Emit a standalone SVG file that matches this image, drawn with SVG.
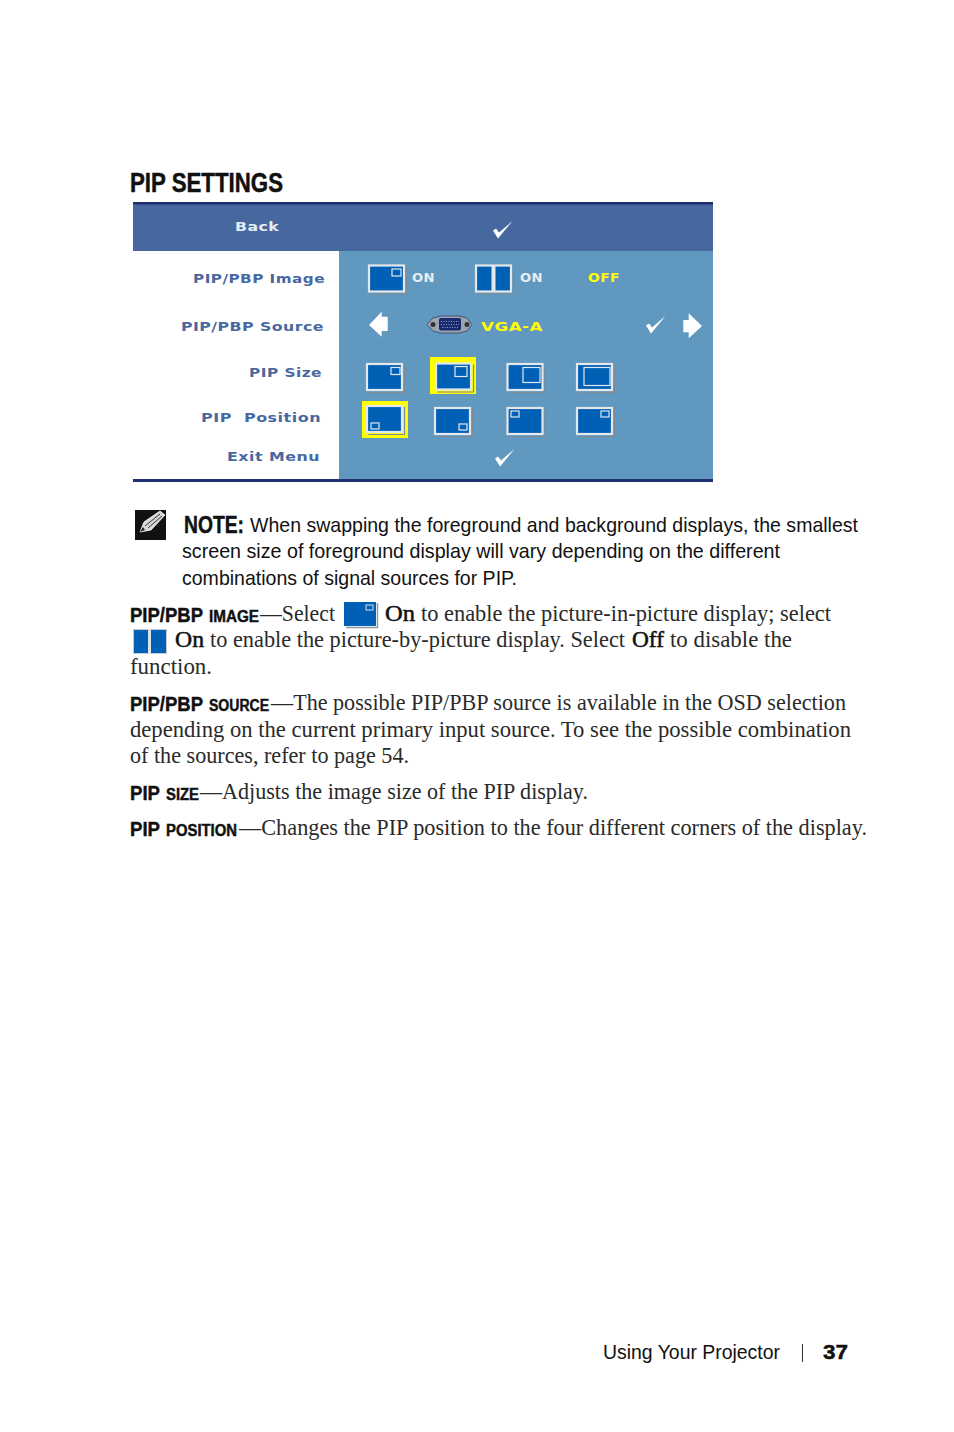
<svg xmlns="http://www.w3.org/2000/svg" width="954" height="1432" viewBox="0 0 954 1432">
<style>
text{white-space:pre}
.h{font-family:"Liberation Sans Narrow","Liberation Sans",Arial,sans-serif;font-weight:700;font-size:27px;fill:#111;stroke:#111;stroke-width:.5}
.s{font-family:"Liberation Sans Narrow","Liberation Sans",Arial,sans-serif;font-size:21px;fill:#111}
.sb{font-family:"Liberation Sans Narrow","Liberation Sans",Arial,sans-serif;font-weight:700;font-size:21px;fill:#111;stroke:#111;stroke-width:.45}
.sc{font-size:16px}
.n{font-size:24px}
.r{font-family:"Liberation Serif","Times New Roman",serif;font-size:22.2px;fill:#2a2a2a}
.rb{fill:#111;stroke:#111;stroke-width:.5}
.m{font-family:"DejaVu Sans",sans-serif;font-weight:700;font-size:13px;fill:#48689f;letter-spacing:.4px}
.w{fill:#e6edf2}.y{fill:#ffff00}
.ic{fill:#0060b6;stroke:#e4e8ea;stroke-width:2.2}
.sh{fill:none;stroke:#7d8a96;stroke-width:1.2}
.in{fill:none;stroke:#e4e8ea;stroke-width:1.2}
.ck{fill:#fff}
</style>
<defs>
<g id="box"><path class="sh" d="M1.5 28.500H37.500V1"/><rect class="ic" width="35" height="26"/></g>
<path id="check" class="ck" d="M0 9.500L5 17.500L19.500 0L6 11.500L3 7.500Z"/>
</defs>
<text class="h" x="130" y="192" textLength="153" lengthAdjust="spacingAndGlyphs">PIP SETTINGS</text>
<g id="osd">
<rect x="133" y="204" width="580" height="47" fill="#46689f"/>
<rect x="339" y="251" width="374" height="228" fill="#6198bf"/>
<rect x="133" y="202" width="580" height="2.500" fill="#1f2f70"/>
<rect x="133" y="479" width="580" height="3" fill="#1f2f70"/>
</g>
<g id="menu-labels">
<text class="m" x="235" y="231" style="fill:#e6edf2" textLength="44" lengthAdjust="spacingAndGlyphs">Back</text>
<text class="m" x="193" y="283" textLength="132" lengthAdjust="spacingAndGlyphs">PIP/PBP Image</text>
<text class="m" x="181" y="331" textLength="143" lengthAdjust="spacingAndGlyphs">PIP/PBP Source</text>
<text class="m" x="249" y="377" textLength="73" lengthAdjust="spacingAndGlyphs">PIP Size</text>
<text class="m" x="201" y="422" textLength="120" lengthAdjust="spacingAndGlyphs">PIP  Position</text>
<text class="m" x="227" y="461" textLength="93" lengthAdjust="spacingAndGlyphs">Exit Menu</text>
</g>
<g id="image-row">
<use href="#box" x="369" y="265.500"/>
<rect class="in" x="392" y="269" width="9" height="7"/>
<text class="m w" x="412" y="282" textLength="23" lengthAdjust="spacingAndGlyphs">ON</text>
<use href="#box" x="476" y="265.500"/>
<path d="M493.500 265.500V291" stroke="#e4e8ea" stroke-width="4"/>
<text class="m w" x="520" y="282" textLength="23" lengthAdjust="spacingAndGlyphs">ON</text>
<text class="m y" x="588" y="282" textLength="32" lengthAdjust="spacingAndGlyphs">OFF</text>
</g>
<g id="source-row">
<path d="M369 325L381.700 311.700V316.700H387.700V331H381.700V336.700Z" fill="#fff"/>
<path d="M702 326L688.700 313.300V320H683.300V332.300H688.700V338.300Z" fill="#fff"/>
<path d="M427 324.500L433 318L441 316H459L467 318L472 324.500L467 331L459 333H441L433 331Z" fill="#9aa5b0" stroke="#33406a" stroke-width=".8"/>
<rect x="439" y="318" width="22" height="12.500" rx="2" fill="#1a2a70"/>
<path d="M441 321.500H459M441 324.500H459M442 327.500H458" stroke="#8fa0c8" stroke-width="1" stroke-dasharray="1 1.500"/>
<circle cx="433" cy="324.500" r="2.500" fill="#333"/><circle cx="467" cy="324.500" r="2.500" fill="#333"/>
<text class="m y" x="481" y="331" textLength="62" lengthAdjust="spacingAndGlyphs">VGA-A</text>
<use href="#check" x="646" y="316"/>
</g>
<g id="size-row">
<use href="#box" x="367" y="364"/><rect class="in" x="391" y="367.500" width="9" height="7"/>
<rect x="430" y="357" width="46" height="37" fill="#ffff00"/>
<use href="#box" x="436" y="363.500"/><rect class="in" x="455" y="366.500" width="12" height="10"/>
<use href="#box" x="507.500" y="364"/><rect class="in" x="523" y="367.500" width="17" height="15"/>
<use href="#box" x="577" y="364"/><rect class="in" x="584" y="367.500" width="26" height="18"/>
</g>
<g id="position-row">
<rect x="362" y="401" width="46" height="37" fill="#ffff00"/>
<use href="#box" x="367" y="406"/><rect class="in" x="371" y="423" width="8" height="6"/>
<use href="#box" x="435" y="408"/><rect class="in" x="459" y="424" width="8" height="6"/>
<use href="#box" x="507.500" y="408"/><rect class="in" x="511" y="411" width="8" height="6"/>
<use href="#box" x="577" y="408"/><rect class="in" x="601" y="411" width="8" height="6"/>
</g>
<g id="checks"><use href="#check" x="493" y="221"/><use href="#check" x="495" y="449"/></g>
<g id="note-icon"><rect x="135" y="510" width="31" height="30" fill="#111"/>
<path d="M140 532L144 522L160 511L165 515L151 530Z" fill="#d8d8d8" stroke="#fff" stroke-width=".8"/>
<path d="M145 526L160 514M148 528L162 516" stroke="#333" stroke-width="1" fill="none"/>
<path d="M140 532L143 527L145 530Z" fill="#222"/></g>
<text class="sb n" x="184" y="533" textLength="60" lengthAdjust="spacingAndGlyphs">NOTE:</text>
<text class="s" x="250" y="532" textLength="608" lengthAdjust="spacingAndGlyphs">When swapping the foreground and background displays, the smallest</text>
<text class="s" x="182" y="558" textLength="598" lengthAdjust="spacingAndGlyphs">screen size of foreground display will vary depending on the different</text>
<text class="s" x="182" y="585" textLength="335" lengthAdjust="spacingAndGlyphs">combinations of signal sources for PIP.</text>

<text class="sb" x="130" y="622" textLength="73" lengthAdjust="spacingAndGlyphs">PIP/PBP</text>
<text class="sb sc" x="209" y="622" textLength="50" lengthAdjust="spacingAndGlyphs">IMAGE</text>
<text class="r" x="260" y="621" textLength="75" lengthAdjust="spacingAndGlyphs">—Select</text>
<g id="inline-pip"><path d="M346 627.500H377.500V603" fill="none" stroke="#8c9aa6" stroke-width="1.500"/><rect x="344" y="602" width="32" height="24" fill="#0060b6"/><rect x="366" y="605" width="7" height="5" fill="none" stroke="#dde" stroke-width="1"/></g>
<text class="r rb" x="385" y="621" textLength="30" lengthAdjust="spacingAndGlyphs">On</text>
<text class="r" x="421" y="621" textLength="410" lengthAdjust="spacingAndGlyphs">to enable the picture-in-picture display; select</text>
<g id="inline-pbp"><rect x="133.500" y="629.500" width="33" height="24" fill="#0060b6" stroke="#c4ccd2"/><path d="M149.500 629V654" stroke="#dde3e8" stroke-width="3"/></g>
<text class="r rb" x="175" y="647" textLength="29" lengthAdjust="spacingAndGlyphs">On</text>
<text class="r" x="210" y="647" textLength="415" lengthAdjust="spacingAndGlyphs">to enable the picture-by-picture display. Select</text>
<text class="r rb" x="632" y="647" textLength="32" lengthAdjust="spacingAndGlyphs">Off</text>
<text class="r" x="670" y="647" textLength="122" lengthAdjust="spacingAndGlyphs">to disable the</text>
<text class="r" x="130" y="674" textLength="82" lengthAdjust="spacingAndGlyphs">function.</text>

<text class="sb" x="130" y="711" textLength="73" lengthAdjust="spacingAndGlyphs">PIP/PBP</text>
<text class="sb sc" x="209" y="711" textLength="60" lengthAdjust="spacingAndGlyphs">SOURCE</text>
<text class="r" x="271" y="710" textLength="575" lengthAdjust="spacingAndGlyphs">—The possible PIP/PBP source is available in the OSD selection</text>
<text class="r" x="130" y="737" textLength="721" lengthAdjust="spacingAndGlyphs">depending on the current primary input source. To see the possible combination</text>
<text class="r" x="130" y="763" textLength="279" lengthAdjust="spacingAndGlyphs">of the sources, refer to page 54.</text>

<text class="sb" x="130" y="800" textLength="30" lengthAdjust="spacingAndGlyphs">PIP</text>
<text class="sb sc" x="166" y="800" textLength="33" lengthAdjust="spacingAndGlyphs">SIZE</text>
<text class="r" x="200" y="799" textLength="388" lengthAdjust="spacingAndGlyphs">—Adjusts the image size of the PIP display.</text>

<text class="sb" x="130" y="836" textLength="30" lengthAdjust="spacingAndGlyphs">PIP</text>
<text class="sb sc" x="166" y="836" textLength="71" lengthAdjust="spacingAndGlyphs">POSITION</text>
<text class="r" x="239" y="835" textLength="628" lengthAdjust="spacingAndGlyphs">—Changes the PIP position to the four different corners of the display.</text>

<text class="s" x="603" y="1359" textLength="177" lengthAdjust="spacingAndGlyphs">Using Your Projector</text>
<path d="M802.500 1344V1362" stroke="#333" stroke-width="1"/>
<text class="sb" x="823" y="1359" textLength="25" lengthAdjust="spacingAndGlyphs">37</text>
</svg>
